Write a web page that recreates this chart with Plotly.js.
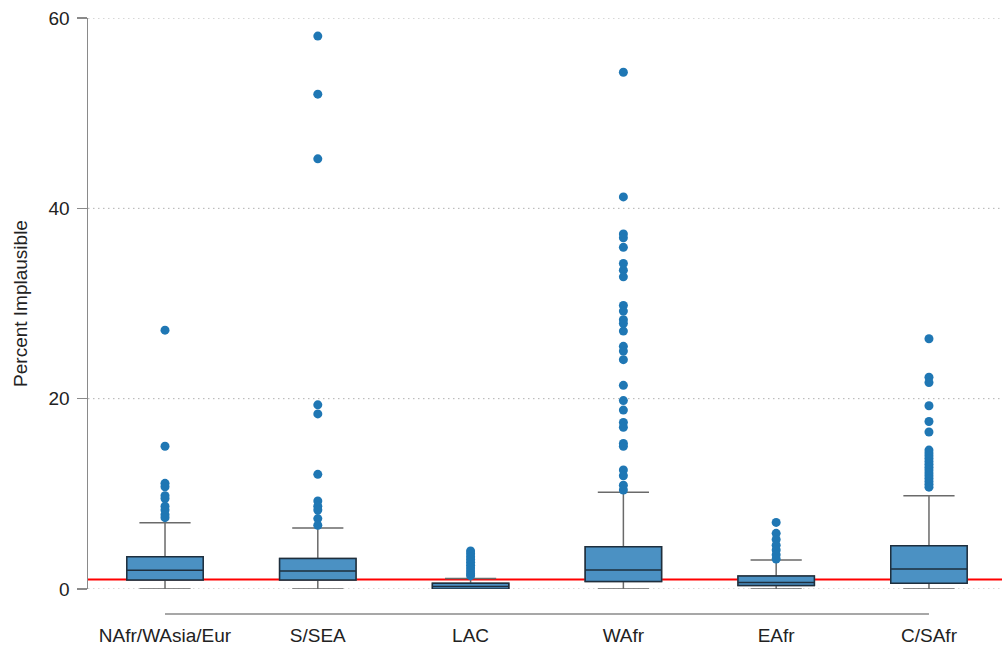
<!DOCTYPE html>
<html>
<head>
<meta charset="utf-8">
<script src="https://cdn.plot.ly/plotly-3.0.1.min.js"></script>
<style>html,body{margin:0;padding:0;background:#fff;}#chart{width:1002px;height:646px;}</style>
</head>
<body>
<div id="chart"></div>
<script>
// Categories and summary statistics
var categories = ["NAfr/WAsia/Eur", "S/SEA", "LAC", "WAfr", "EAfr", "C/SAfr"];
var lowerFence = [0, 0, 0, 0, 0, 0];
var q1 =         [0.95, 0.95, 0.0, 0.8, 0.38, 0.6];
var median =     [1.96, 1.9, 0.25, 2.0, 0.67, 2.1];
var q3 =         [3.4, 3.2, 0.6, 4.45, 1.37, 4.55];
var upperFence = [6.97, 6.4, 1.1, 10.16, 3.05, 9.8];

// Outliers per category
var outNAfr = [27.2, 15.0, 11.1, 10.75, 9.8, 9.5, 8.7, 8.3, 7.8, 7.5];
var outSSEA = [58.1, 52.0, 45.2, 19.35, 18.4, 12.05, 9.25, 8.7, 8.3, 7.4, 6.7];
var outLAC  = [4.0, 3.7, 3.4, 3.1, 2.8, 2.5, 2.2, 1.9, 1.6, 1.4];
var outWAfr = [54.3, 41.2, 37.3, 36.9, 35.9, 34.2, 33.5, 32.8, 29.8, 29.2, 28.3, 27.9,
               27.1, 25.5, 25.0, 24.1, 21.4, 19.8, 18.8, 17.5, 17.0, 15.3, 15.0, 12.5,
               11.9, 10.9, 10.4];
var outEAfr = [7.0, 5.85, 5.2, 4.6, 4.1, 3.6, 3.15];
var outCSAfr = [26.3, 22.25, 21.7, 19.25, 17.6, 16.5, 14.6, 14.3, 14.0, 13.7, 13.4, 13.1,
                12.8, 12.5, 12.2, 11.9, 11.6, 11.3, 11.0, 10.7];
var outliers = [outNAfr, outSSEA, outLAC, outWAfr, outEAfr, outCSAfr];

var refLine = 1;
var yTicks = [0, 20, 40, 60];

var xIdx = categories.map(function (c, i) { return i; });
var outX = [], outY = [];
outliers.forEach(function (arr, i) {
  arr.forEach(function (v) { outX.push(i); outY.push(v); });
});

var xRange = [-0.504, 5.478];
function xPaper(v) { return (v - xRange[0]) / (xRange[1] - xRange[0]); }

var font = {family: "Liberation Sans, Arial, sans-serif", size: 19, color: "#222"};

var traces = [
  {
    type: "box", x: xIdx, q1: q1, median: median, q3: q3,
    lowerfence: lowerFence, upperfence: upperFence,
    width: 0.5, whiskerwidth: 0.67, boxpoints: false,
    fillcolor: "#4b91c3", line: {color: "#6a6a6a", width: 1.5},
    hoverinfo: "skip", showlegend: false
  },
  {
    type: "box", x: xIdx, q1: q1, median: median, q3: q3,
    lowerfence: q1, upperfence: q3,
    width: 0.5, whiskerwidth: 0, boxpoints: false,
    fillcolor: "#4b91c3", line: {color: "#1e2f3e", width: 1.5},
    hoverinfo: "skip", showlegend: false
  },
  {
    type: "scatter", mode: "markers", x: outX, y: outY,
    marker: {color: "#1f77b4", size: 9},
    hoverinfo: "y", showlegend: false, cliponaxis: false
  }
];

var shapes = yTicks.map(function (v) {
  return {type: "line", xref: "paper", x0: 0, x1: 1, yref: "y", y0: v, y1: v,
          line: {color: "#b0b0b0", width: 1, dash: "1.5px,3.5px"}, layer: "below"};
});
shapes.push({type: "line", xref: "paper", x0: 0, x1: 1, yref: "y", y0: refLine, y1: refLine,
             line: {color: "#ff0000", width: 2}, layer: "below"});
shapes.push({type: "line", xref: "paper", x0: xPaper(0), x1: xPaper(categories.length - 1),
             yref: "paper", y0: -0.0438, y1: -0.0438,
             line: {color: "#8a8a8a", width: 1.5}});

var layout = {
  width: 1002, height: 646,
  margin: {l: 88, r: 0, t: 18, b: 57},
  paper_bgcolor: "#fff", plot_bgcolor: "#fff",
  font: font,
  showlegend: false,
  boxmode: "overlay",
  xaxis: {
    range: xRange, tickvals: xIdx, ticktext: categories,
    showgrid: false, zeroline: false, showline: false,
    ticks: "outside", ticklen: 29, tickcolor: "rgba(0,0,0,0)",
    tickfont: font, fixedrange: true
  },
  yaxis: {
    range: [0, 60], tickvals: yTicks, ticktext: yTicks.map(String),
    showline: true, linecolor: "#8a8a8a", linewidth: 1.5,
    ticks: "outside", ticklen: 10, tickcolor: "#8a8a8a", tickwidth: 1.5,
    ticklabelstandoff: 3,
    showgrid: false, zeroline: false, tickfont: font,
    title: {text: "Percent Implausible", font: font, standoff: 16},
    fixedrange: true
  },
  shapes: shapes
};

Plotly.newPlot("chart", traces, layout, {displayModeBar: false, staticPlot: true});
</script>
</body>
</html>
